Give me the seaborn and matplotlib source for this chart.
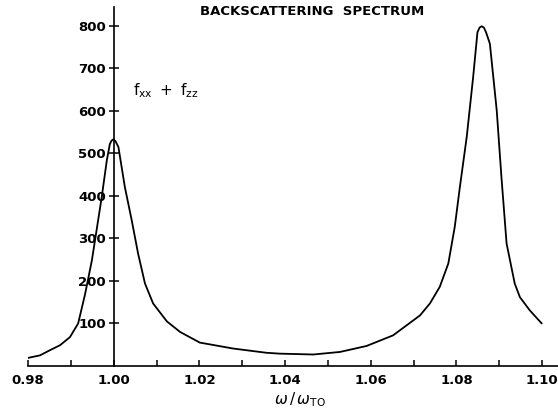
import matplotlib
matplotlib.use("Agg")
import matplotlib.pyplot as plt
import pandas as pd
import seaborn as sns
from matplotlib.ticker import MultipleLocator

# values
omega_ratio = [
    0.9800, 0.9828, 0.9851, 0.9875, 0.9898, 0.9917, 0.9933, 0.9949, 0.9960,
    0.9972, 0.9984, 0.9991, 0.9995, 0.9999, 1.0004, 1.0011, 1.0026, 1.0042,
    1.0057, 1.0073, 1.0092, 1.0124, 1.0155, 1.0201, 1.0279, 1.0357, 1.0388,
    1.0466, 1.0528, 1.0590, 1.0652, 1.0715, 1.0738, 1.0761, 1.0781, 1.0796,
    1.0808, 1.0824, 1.0839, 1.0849, 1.0854, 1.0859, 1.0864, 1.0869, 1.0878,
    1.0894, 1.0905, 1.0917, 1.0936, 1.0948, 1.0971, 1.0999,
]
intensity = [
    19, 25, 37, 49, 68, 100, 168, 248, 319,
    397, 484, 522, 530, 533, 529, 515, 421, 343,
    264, 194, 147, 105, 80, 55, 41, 31, 29,
    27, 33, 47, 72, 119, 147, 186, 241, 327,
    421, 539, 680, 785, 796, 799, 796, 785, 758,
    601, 444, 288, 194, 162, 131, 100,
]
x_ticks = [0.98, 1.00, 1.02, 1.04, 1.06, 1.08, 1.10]
y_ticks = [100, 200, 300, 400, 500, 600, 700, 800]

df = pd.DataFrame({"omega": omega_ratio, "f": intensity})

sns.set_style("ticks", {"axes.edgecolor": "black", "text.color": "black",
                        "xtick.color": "black", "ytick.color": "black"})
plt.rcParams["font.family"] = ["DejaVu Sans"]

fig = plt.figure(figsize=(5.58, 4.12), dpi=100)
ax = fig.add_axes([0.0502, 0.1117, 0.9498, 0.872])

sns.lineplot(data=df, x="omega", y="f", ax=ax, color="black", linewidth=1.3)

ax.set_xlim(0.98, 1.1037)
ax.set_ylim(0, 845)

# y axis drawn at omega/omega_TO = 1
ax.spines["left"].set_position(("data", 1.0))
ax.spines["right"].set_visible(False)
ax.spines["top"].set_visible(False)
for side in ("left", "bottom"):
    ax.spines[side].set_linewidth(1.2)

ax.set_xticks(x_ticks)
ax.set_xticklabels([f"{t:.2f}" for t in x_ticks])
ax.xaxis.set_minor_locator(MultipleLocator(0.01))
ax.set_yticks(y_ticks)
ax.set_yticklabels([str(t) for t in y_ticks])

ax.tick_params(axis="x", which="both", direction="in", length=4, width=1.1,
               pad=6, labelsize=9.5)
ax.tick_params(axis="y", direction="inout", length=7, width=1.1, pad=2,
               labelsize=9.5)
for lab in ax.get_xticklabels() + ax.get_yticklabels():
    lab.set_fontweight("bold")

ax.set_ylabel("")
ax.set_xlabel(r"$\omega\,/\,\omega_{\mathrm{TO}}$", fontsize=11, color="black")
ax.xaxis.set_label_coords(0.513, -0.068)

ax.text(0.536, 0.988, "BACKSCATTERING  SPECTRUM", transform=ax.transAxes,
        ha="center", va="center", fontsize=9.5, fontweight="bold",
        color="black")
ax.text(1.0045, 648, r"$\mathregular{f_{xx}\ +\ f_{zz}}$", ha="left",
        va="center", fontsize=11, color="black")

fig.savefig("out.png", dpi=100)
